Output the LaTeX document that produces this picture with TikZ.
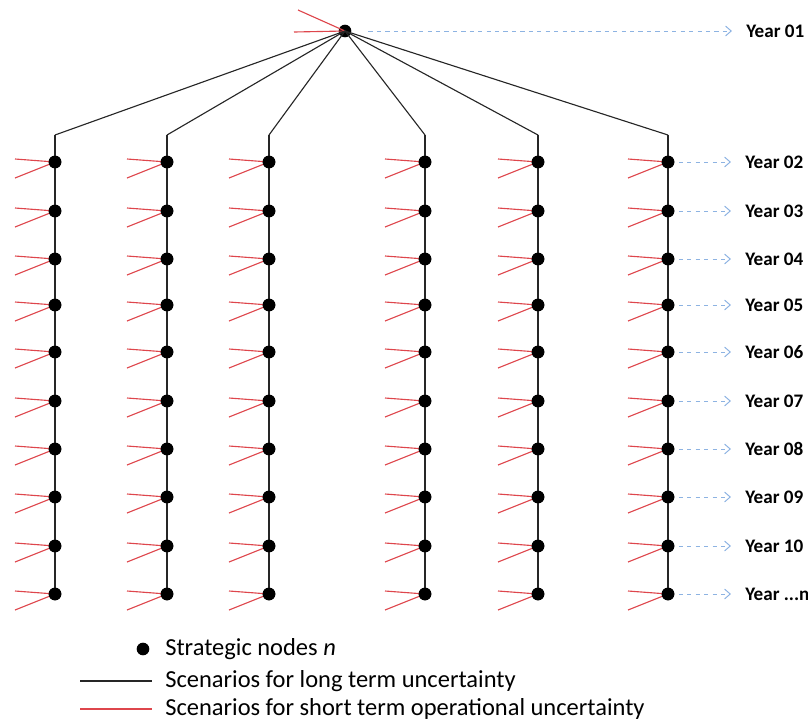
\documentclass[tikz,border=0pt]{standalone}
\usepackage{fontspec}
\setmainfont{Carlito}
\usetikzlibrary{arrows.meta}

\definecolor{shortred}{RGB}{222,70,76}
\definecolor{yearblue}{RGB}{141,179,226}

\tikzset{
  strat/.style={circle, fill=black, inner sep=0pt, minimum size=9pt},
  longterm/.style={draw=black!85, line width=0.8pt},
  shortterm/.style={draw=shortred, line width=0.8pt},
  yeararrow/.style={draw=yearblue, dashed, line width=0.7pt, -{Straight Barb[length=4pt,width=7pt]}},
  yearlabel/.style={anchor=west, font=\fontsize{13.6}{15}\selectfont\bfseries, inner sep=0pt},
  legendtext/.style={anchor=west, font=\fontsize{17.4}{19}\selectfont, inner sep=0pt}
}

\begin{document}
\begin{tikzpicture}[x=0.025cm, y=-0.025cm]
    \useasboundingbox (0,0) rectangle (808,725);

    % root of the tree
    \node[strat] (root) at (345,31) {};
    \draw[shortterm] (root.center) -- ++(-47,-21);
    \draw[shortterm] (root.center) -- ++(-51,1);
    \node[yearlabel] (y1) at (746,31) {Year 01};
    \draw[yeararrow] ([xshift=12pt]root.east) -- ([xshift=-10pt]y1.west);

    % columns of strategic nodes
    \foreach \c/\x in {1/55, 2/167, 3/269, 4/425, 5/538, 6/668} {
      \coordinate (top-\c) at (\x,135);
      \draw[longterm] (root.center) -- (top-\c);
      \foreach \r/\y in {1/162, 2/211, 3/259, 4/305, 5/352, 6/401, 7/449, 8/497, 9/546, 10/594} {
        \node[strat] (n-\c-\r) at (\x,\y) {};
        \draw[shortterm] (n-\c-\r.center) -- ++(-40,-3);
        \draw[shortterm] (n-\c-\r.center) -- ++(-40,16);
      }
      \draw[longterm] (top-\c) -- (n-\c-10.center);
      \foreach \r in {1,...,10} {
        \node[strat] at (n-\c-\r) {};
      }
    }

    % year labels
    \foreach \r/\t in {1/02, 2/03, 3/04, 4/05, 5/06, 6/07, 7/08, 8/09, 9/10, 10/{...n}} {
      \node[yearlabel] (y-\r) at (745,0 |- n-6-\r) {Year \t};
      \draw[yeararrow] ([xshift=3pt]n-6-\r.east) -- ([xshift=-10pt]y-\r.west);
    }

    % legend
    \node[strat] (leg-dot) at (143,649) {};
    \node[legendtext] (leg-n) at (165,649) {Strategic nodes \textit{n}};
    \coordinate (leg-a) at (80,681);
    \coordinate (leg-b) at (152,681);
    \draw[longterm] (leg-a) -- (leg-b);
    \node[legendtext] (leg-long) at (165,681) {Scenarios for long term uncertainty};
    \coordinate (leg-c) at (80,709);
    \coordinate (leg-d) at (152,709);
    \draw[shortterm] (leg-c) -- (leg-d);
    \node[legendtext] (leg-short) at (165,709) {Scenarios for short term operational uncertainty};
\end{tikzpicture}
\end{document}
